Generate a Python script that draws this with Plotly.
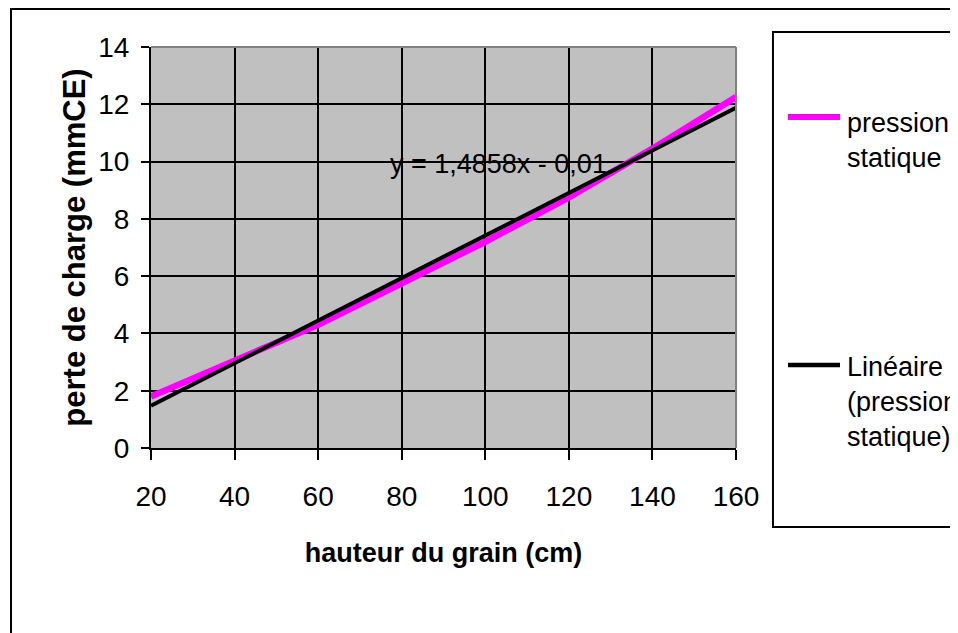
import plotly.graph_objects as go

# ---- data ----
hauteur = [20, 40, 60, 80, 100, 120, 140, 160]
pression_statique = [1.8, 3.05, 4.3, 5.75, 7.2, 8.75, 10.45, 12.25]
trend_slope = 1.4858
trend_intercept = -0.01
x_ticks = [20, 40, 60, 80, 100, 120, 140, 160]
y_ticks = [0, 2, 4, 6, 8, 10, 12, 14]
legend_labels = ["pression<br>statique", "Linéaire<br>(pression<br>statique)"]
legend_colors = ["#FF00FF", "#000000"]

# Excel line-chart trendline uses category index 1..n
trend_y = [trend_slope * (i + 1) + trend_intercept for i in range(len(hauteur))]

ARIAL = "Liberation Sans, Arial, sans-serif"

fig = go.Figure()
fig.add_trace(go.Scatter(
    x=hauteur, y=pression_statique, mode="lines",
    line=dict(color=legend_colors[0], width=6.5),
    name=legend_labels[0], showlegend=False,
))
fig.add_trace(go.Scatter(
    x=hauteur, y=trend_y, mode="lines",
    line=dict(color=legend_colors[1], width=4),
    name=legend_labels[1], showlegend=False,
))

fig.add_annotation(
    x=76.8, y=9.9, xref="x", yref="y", xanchor="left", yanchor="middle",
    text="y = 1,4858x - 0,01", showarrow=False,
    font=dict(family=ARIAL, size=27, color="black"),
)

# manual legend (inside a framed box, like the original Excel chart)
legend_y = [0.8254, 0.207]
legend_text_y = [0.768, 0.1147]
shapes = [
    # outer chart frame
    dict(type="rect", xref="paper", yref="paper", x0=-0.2393, x1=1.40, y0=-0.50, y1=1.0948,
         line=dict(color="black", width=2), layer="above"),
    # legend box
    dict(type="rect", xref="paper", yref="paper", x0=1.0632, x1=1.40, y0=-0.197, y1=1.0374,
         line=dict(color="black", width=2), layer="above"),
    # gray top and right plot-area border
    dict(type="line", xref="paper", yref="paper", x0=0, x1=1, y0=1, y1=1,
         line=dict(color="#808080", width=2), layer="above"),
    dict(type="line", xref="paper", yref="paper", x0=1, x1=1, y0=0, y1=1,
         line=dict(color="#808080", width=2), layer="above"),
]
for col, ly in zip(legend_colors, legend_y):
    shapes.append(dict(type="line", xref="paper", yref="paper", x0=1.0889, x1=1.1778,
                       y0=ly, y1=ly, line=dict(color=col, width=6 if col != "#000000" else 4.5)))
for lab, ty in zip(legend_labels, legend_text_y):
    fig.add_annotation(x=1.187, y=ty, xref="paper", yref="paper", xanchor="left",
                       yanchor="middle", align="left", text=lab, showarrow=False,
                       font=dict(family=ARIAL, size=27, color="black"))

fig.update_layout(
    width=950, height=625,
    margin=dict(l=143, r=222, t=39, b=185, autoexpand=False),
    paper_bgcolor="white", plot_bgcolor="#C0C0C0",
    shapes=shapes,
    showlegend=False,
    xaxis=dict(
        range=[20, 160], tickvals=x_ticks, ticktext=[str(v) for v in x_ticks],
        showgrid=True, gridcolor="black", gridwidth=2,
        showline=True, linecolor="black", linewidth=2,
        ticks="outside", ticklen=10, tickwidth=2, tickcolor="black",
        ticklabelstandoff=12,
        tickfont=dict(family=ARIAL, size=28, color="black"),
        title=dict(text="<b>hauteur du grain (cm)</b>", standoff=33,
                   font=dict(family=ARIAL, size=27, color="black")),
        zeroline=False,
    ),
    yaxis=dict(
        range=[0, 14], tickvals=y_ticks,
        showgrid=True, gridcolor="black", gridwidth=2,
        showline=True, linecolor="black", linewidth=2,
        ticks="outside", ticklen=8, tickwidth=2, tickcolor="black",
        ticklabelstandoff=6,
        tickfont=dict(family=ARIAL, size=28, color="black"),
        title=dict(text="<b>perte de charge (mmCE)</b>", standoff=3,
                   font=dict(family=ARIAL, size=31, color="black")),
        zeroline=False,
    ),
)

fig.write_html("out.html")
